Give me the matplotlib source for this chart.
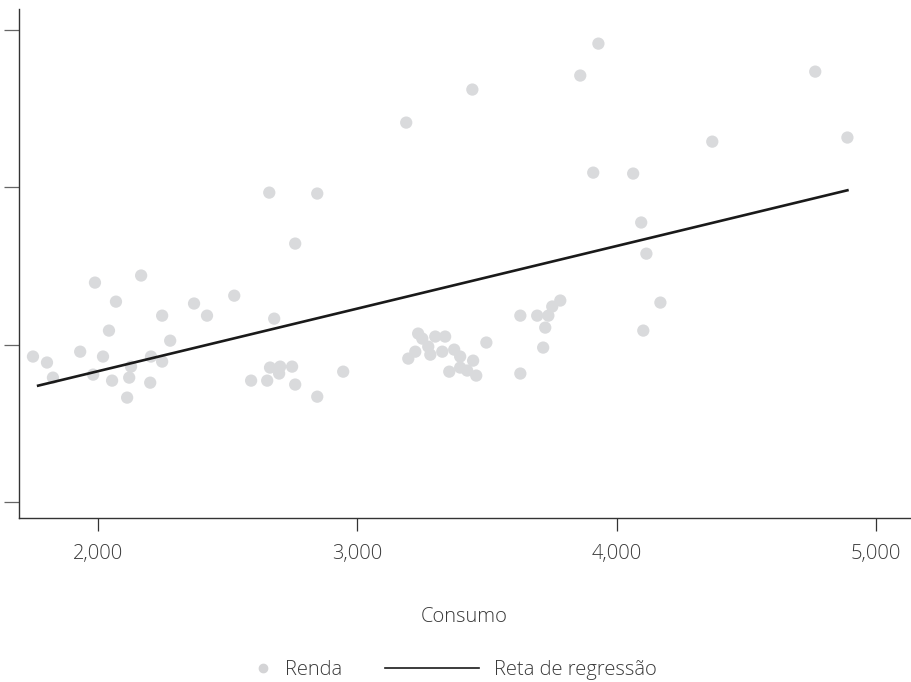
import numpy as np
from matplotlib import pyplot as plt
from matplotlib.lines import Line2D
from matplotlib.legend_handler import HandlerLine2D

# Valores (Consumo no eixo x, Renda no eixo y)
consumo = [
    1749, 1803, 1826, 1931, 1981, 1988, 2019, 2042, 2054, 2069,
    2112, 2120, 2127, 2166, 2204, 2201, 2247, 2247, 2278, 2370,
    2420, 2525, 2590, 2652, 2660, 2663, 2679, 2698, 2702, 2748,
    2760, 2760, 2845, 2845, 2945, 3188, 3196, 3223, 3234, 3250,
    3273, 3281, 3300, 3338, 3327, 3354, 3373, 3396, 3396, 3423,
    3443, 3446, 3458, 3497, 3628, 3628, 3693, 3716, 3724, 3736,
    3751, 3782, 3859, 3909, 3929, 4063, 4094, 4102, 4114, 4168,
    4368, 4765, 4889,
]
renda = [
    1924, 1886, 1790, 1955, 1809, 2394, 1924, 2089, 1771, 2273,
    1663, 1790, 1860, 2439, 1924, 1758, 2184, 1892, 2025, 2261,
    2184, 2311, 1771, 1771, 2966, 1854, 2165, 1816, 1860, 1860,
    1746, 2642, 2960, 1669, 1828, 3411, 1911, 1955, 2070, 2038,
    1987, 1936, 2051, 2051, 1955, 1828, 1968, 1924, 1854, 1835,
    3621, 1898, 1803, 2013, 1816, 2184, 2184, 1981, 2108, 2184,
    2242, 2280, 3710, 3093, 3913, 3087, 2776, 2089, 2578, 2267,
    3290, 3735, 3316,
]

# Reta de regressão (coeficientes)
slope = 0.398
intercept = 1035
line_x = [1769, 4889]

x_ticks = [2000, 3000, 4000, 5000]
x_ticklabels = ["2,000", "3,000", "4,000", "5,000"]
y_ticks = [1000, 2000, 3000, 4000]


class MarkerRightHandler(HandlerLine2D):
    """Puts the single legend marker near the label instead of mid-handle."""

    def get_xdata(self, legend, xdescent, ydescent, width, height, fontsize):
        m = -xdescent + width - 5.0
        return np.array([m - 1.0, m + 1.0]), np.array([m])


plt.rcParams["font.family"] = ["Open Sans", "DejaVu Sans"]
plt.rcParams["font.weight"] = "light"

fig = plt.figure(figsize=(9.12, 6.82), dpi=100)
ax = fig.add_axes([0.0208, 0.2405, 0.9772, 0.7463])

point_color = "#d9dadc"
line_color = "#1a1a1a"
spine_color = "#333333"
text_color = "#3a3a3a"
font_size = 14.5

ax.scatter(consumo, renda, s=78, color=point_color, edgecolors="none", zorder=2)
lx = np.array(line_x)
ax.plot(lx, intercept + slope * lx, color=line_color, lw=1.9, zorder=3)

ax.set_xlim(1695, 5131)
ax.set_ylim(898, 4133)
ax.set_xticks(x_ticks)
ax.set_xticklabels(x_ticklabels)
ax.set_yticks(y_ticks)
ax.set_yticklabels([])

for side in ["top", "right"]:
    ax.spines[side].set_visible(False)
for side in ["left", "bottom"]:
    ax.spines[side].set_color(spine_color)
    ax.spines[side].set_linewidth(1.0)

ax.tick_params(axis="x", length=9.5, width=0.9, color=spine_color, pad=9,
               labelsize=font_size, labelcolor=text_color)
ax.tick_params(axis="y", length=11, width=0.9, color="#666666")

ax.set_xlabel("Consumo", fontsize=font_size, fontweight="light",
              color=text_color, labelpad=31)

handles = [
    Line2D([], [], marker="o", ls="none", ms=6, color="#d4d4d6",
           label="Renda"),
    Line2D([], [], color=line_color, lw=1.2, label="Reta de regressão"),
]
fig.legend(handles=handles, loc="center", bbox_to_anchor=(0.4565, 0.017),
           ncol=2, frameon=False, fontsize=font_size, handlelength=4.7,
           handletextpad=0.75, columnspacing=2.1, labelcolor=text_color,
           handler_map={handles[0]: MarkerRightHandler()})

fig.savefig("out.png", dpi=100)
